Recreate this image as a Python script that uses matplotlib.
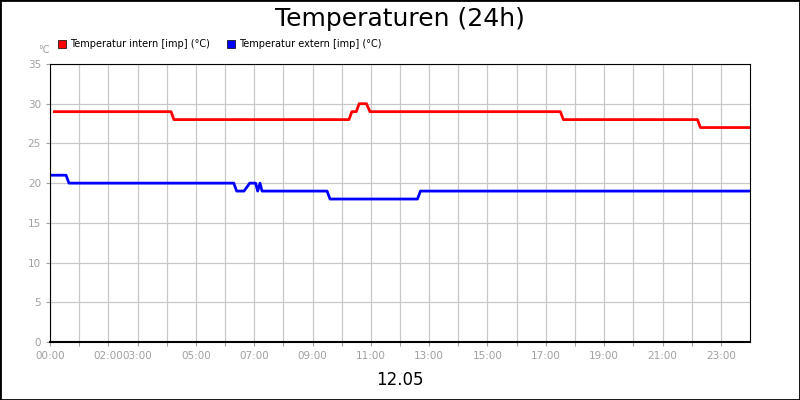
import matplotlib
matplotlib.use("Agg")
import matplotlib.pyplot as plt
from matplotlib.patches import Rectangle

# hours since 00:00 and temperature (°C)
intern_h = [0.15, 4.15, 4.25, 10.25, 10.35, 10.5, 10.6, 10.85, 10.97, 17.5, 17.6, 22.2, 22.3, 24]
intern_t = [29, 29, 28, 28, 29, 29, 30, 30, 29, 29, 28, 28, 27, 27]
extern_h = [0.05, 0.55, 0.65, 6.3, 6.4, 6.65, 6.85, 7.05, 7.12, 7.2, 7.27, 9.5, 9.6, 12.6, 12.7, 24]
extern_t = [21, 21, 20, 20, 19, 19, 20, 20, 19, 20, 19, 19, 18, 18, 19, 19]
tick_labels = {0: "00:00", 2: "02:00", 3: "03:00", 5: "05:00", 7: "07:00", 9: "09:00",
               11: "11:00", 13: "13:00", 15: "15:00", 17: "17:00", 19: "19:00",
               21: "21:00", 23: "23:00"}

fig = plt.figure(figsize=(8, 4), dpi=100)
ax = fig.add_axes([50 / 800, 58 / 400, 700 / 800, 278 / 400])
ax.plot(intern_h, intern_t, color="#ff0000", lw=2)
ax.plot(extern_h, extern_t, color="#0000ff", lw=2)
ax.set_xlim(0, 24)
ax.set_ylim(0, 35)
ax.set_xticks(range(24))
ax.set_xticklabels([tick_labels.get(h, "") for h in range(24)])
ax.set_yticks(range(0, 36, 5))
ax.grid(True, color="#c8c8c8", lw=0.9)
ax.tick_params(colors="#a0a0a0", labelsize=7.5, length=3)
for s in ax.spines.values():
    s.set_color("black")
ax.spines["bottom"].set_linewidth(1.5)

fig.text(0.5, 0.953, "Temperaturen (24h)", ha="center", va="center", fontsize=18)
fig.text(0.5, 0.05, "12.05", ha="center", va="center", fontsize=12)
fig.text(38 / 800, 0.875, "°C", fontsize=7, color="#a0a0a0", ha="left", va="center")
for x0, label, c in [(58, "Temperatur intern [imp] (°C)", "#ff0000"),
                     (227, "Temperatur extern [imp] (°C)", "#0000ff")]:
    fig.patches.append(Rectangle((x0 / 800, 352 / 400), 8 / 800, 8 / 400, transform=fig.transFigure,
                                 facecolor=c, edgecolor="black", lw=0.5))
    fig.text((x0 + 12) / 800, 356 / 400, label, fontsize=7, va="center")
fig.patches.append(Rectangle((0, 0), 1, 1, transform=fig.transFigure, fill=False,
                             edgecolor="black", lw=2))
fig.savefig("out.png", dpi=100)
